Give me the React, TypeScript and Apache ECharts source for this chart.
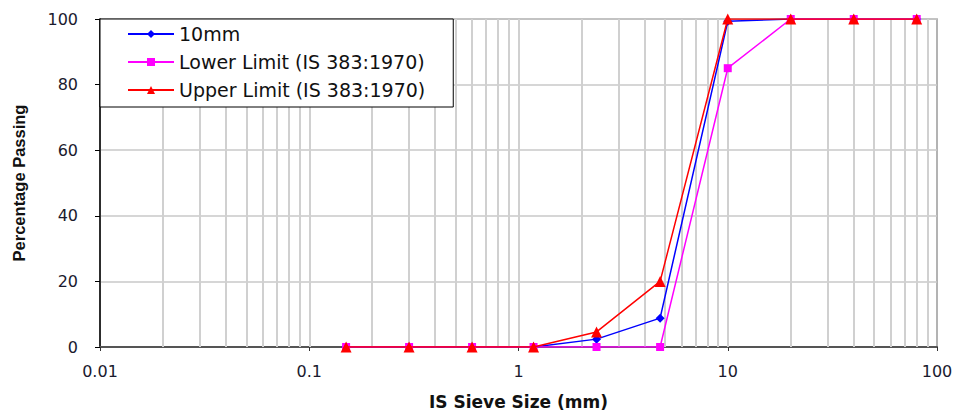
import React, { useEffect, useRef } from "react";
import * as echarts from "echarts";

const SIEVE_SIZES = [0.15, 0.3, 0.6, 1.18, 2.36, 4.75, 10, 20, 40, 80];
const PASSING_10MM = [0, 0, 0, 0, 2.4, 8.8, 99.3, 100, 100, 100];
const LOWER_LIMIT = [0, 0, 0, 0, 0, 0, 85, 100, 100, 100];
const UPPER_LIMIT = [0, 0, 0, 0, 4.6, 20, 100, 100, 100, 100];
const SERIES_NAMES = ["10mm", "Lower Limit (IS 383:1970)", "Upper Limit (IS 383:1970)"];
const X_TICK_LABELS = ["0.01", "0.1", "1", "10", "100"];
const GRID_DECADES = [0.01, 0.1, 1, 10];
const GRID_MULTIPLES = [1, 2, 3, 4, 5, 6, 7, 8, 9];

export default function App() {
  const ref = useRef<HTMLDivElement>(null);
  useEffect(() => {
    if (!ref.current) return;
    const chart = echarts.init(ref.current, undefined, { renderer: "svg" });
    const pairs = (ys: number[]) => SIEVE_SIZES.map((x, i) => [x, ys[i]]);
    const gridLines: { xAxis: number }[] = [];
    GRID_DECADES.forEach((d) =>
      GRID_MULTIPLES.forEach((m) => {
        if (d === 0.01 && m === 1) return;
        gridLines.push({ xAxis: +(d * m).toPrecision(3) });
      })
    );
    const tickFont = { fontFamily: "DejaVu Sans", fontSize: 16, color: "#1a1a2e" };
    chart.setOption({
      animation: false,
      backgroundColor: "#fff",
      grid: {
        left: 100,
        right: 19,
        top: 19,
        bottom: 68,
        show: true,
        borderColor: "#9a9a9a",
        borderWidth: 1.5,
      },
      legend: {
        left: 100,
        top: 19,
        orient: "vertical",
        backgroundColor: "#fff",
        borderColor: "#000",
        borderWidth: 1,
        borderRadius: 0,
        padding: [5, 28, 7, 27],
        itemWidth: 46,
        itemHeight: 10,
        itemGap: 8,
        textStyle: { fontFamily: "DejaVu Sans", fontSize: 19, lineHeight: 20, color: "#111" },
        data: SERIES_NAMES,
        z: 10,
      },
      xAxis: {
        type: "log",
        logBase: 10,
        min: 0.01,
        max: 100,
        name: "IS Sieve Size (mm)",
        nameLocation: "middle",
        nameGap: 46,
        nameTextStyle: { fontFamily: "DejaVu Sans", fontWeight: "bold", fontSize: 17, color: "#111" },
        axisLine: { lineStyle: { color: "#555", width: 2 } },
        axisTick: { show: true, length: 4, lineStyle: { color: "#333" } },
        axisLabel: {
          ...tickFont,
          margin: 16,
          formatter: (v: number) => {
            const idx = Math.round(Math.log10(v) + 2);
            return X_TICK_LABELS[idx] ?? String(v);
          },
        },
        splitLine: { show: false },
        minorSplitLine: { show: false },
      },
      yAxis: {
        type: "value",
        min: 0,
        max: 100,
        interval: 20,
        name: "Percentage Passing",
        nameLocation: "middle",
        nameGap: 73,
        nameTextStyle: { fontFamily: "Liberation Sans", fontWeight: "bold", fontSize: 16.5, color: "#111" },
        axisLine: { show: true, lineStyle: { color: "#000", width: 1.5 } },
        axisTick: { show: true, length: 5, lineStyle: { color: "#000" } },
        axisLabel: { ...tickFont, margin: 22 },
        splitLine: { show: true, lineStyle: { color: "#c8c8c8", width: 1.5 } },
      },
      series: [
        {
          name: SERIES_NAMES[0],
          type: "line",
          data: pairs(PASSING_10MM),
          symbol: "diamond",
          symbolSize: 9,
          color: "#0000ff",
          lineStyle: { color: "#0000ff", width: 1.5 },
          itemStyle: { color: "#0000ff" },
          z: 3,
          markLine: {
            silent: true,
            symbol: "none",
            label: { show: false },
            lineStyle: { color: "#d0d0d0", width: 2, type: "solid" },
            data: gridLines,
            z: 1,
          },
        },
        {
          name: SERIES_NAMES[1],
          type: "line",
          data: pairs(LOWER_LIMIT),
          symbol: "rect",
          symbolSize: 8,
          color: "#ff00ff",
          lineStyle: { color: "#ff00ff", width: 1.5 },
          itemStyle: { color: "#ff00ff" },
          z: 4,
        },
        {
          name: SERIES_NAMES[2],
          type: "line",
          data: pairs(UPPER_LIMIT),
          symbol: "triangle",
          symbolSize: 11,
          color: "#ff0000",
          lineStyle: { color: "#ff0000", width: 1.5 },
          itemStyle: { color: "#ff0000" },
          z: 5,
        },
      ],
    });
    return () => chart.dispose();
  }, []);
  return (
    <div
      ref={ref}
      style={{ position: "fixed", left: 0, top: 0, width: 956, height: 415, background: "#fff" }}
    />
  );
}
